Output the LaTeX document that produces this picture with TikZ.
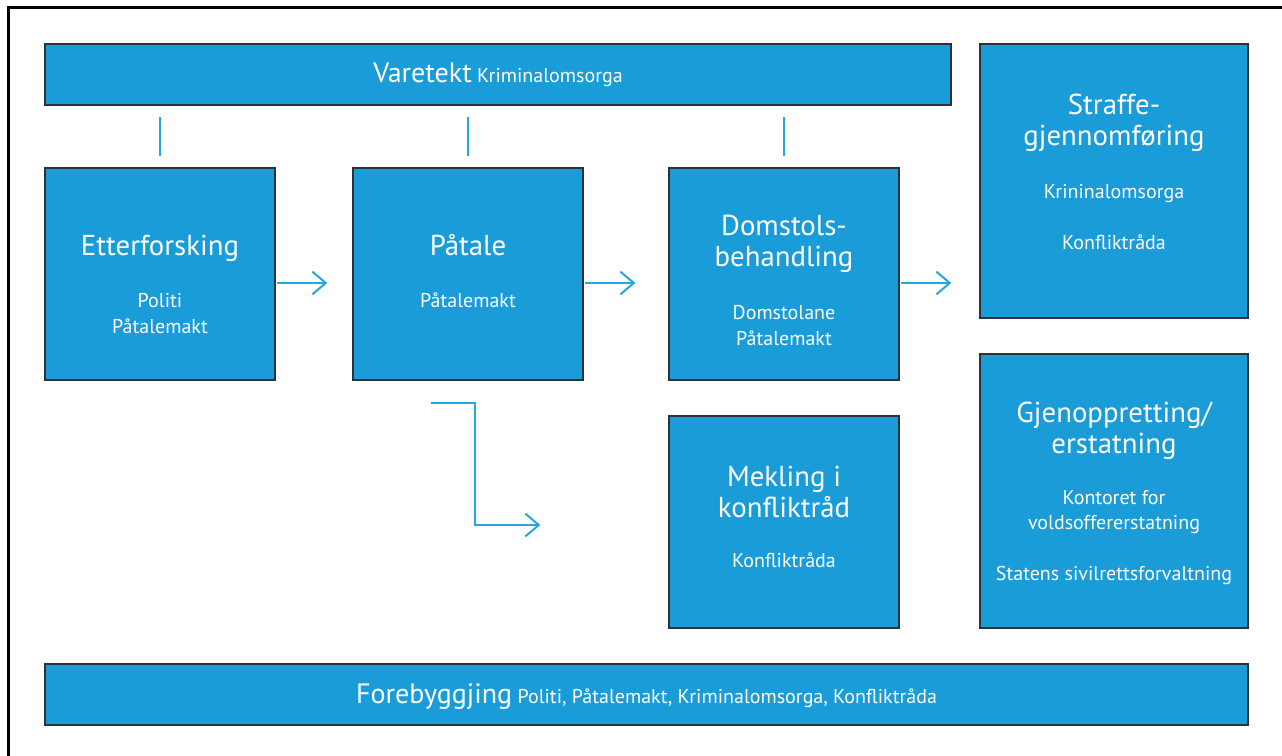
\documentclass[tikz,border=0pt]{standalone}
\usepackage{fontspec}
\setmainfont{PT Sans}
\usetikzlibrary{arrows.meta,calc}

\definecolor{boxblue}{RGB}{26,156,216}
\definecolor{boxedge}{RGB}{45,50,55}
\definecolor{linkblue}{RGB}{38,166,224}

\newcommand\headsize{\fontsize{21.6}{23}\selectfont}
\newcommand\barsize{\fontsize{21}{23}\selectfont}
\newcommand\subsize{\fontsize{15}{17}\selectfont}

\tikzset{
  stage/.style={draw=boxedge, fill=boxblue, line width=1pt, inner sep=0pt},
  headtxt/.style={text=white, font=\headsize, anchor=base, inner sep=0pt},
  subtxt/.style={text=white, font=\subsize, anchor=base, inner sep=0pt},
  link/.style={draw=linkblue, line width=1.5pt},
  arr/.style={link, -{Straight Barb[length=10pt,width=17pt]}},
}

\begin{document}
\begin{tikzpicture}[x=0.75pt,y=0.75pt,yscale=-1,xscale=1]
\useasboundingbox (0,0) rectangle (1282,756);

% frame
\draw[line width=1.6pt] (8.5,756) -- (8.5,7.5) -- (1282,7.5);

% boxes
\node[stage, minimum width=679.5pt, minimum height=45.75pt] (vare) at (498,74.5) {};
\node[stage, minimum width=172.5pt, minimum height=159pt] (etter) at (160,274) {};
\node[stage, minimum width=172.5pt, minimum height=159pt] (patale) at (468,274) {};
\node[stage, minimum width=172.5pt, minimum height=159pt] (domstol) at (784,274) {};
\node[stage, minimum width=172.5pt, minimum height=159pt] (mekling) at (784,522) {};
\node[stage, minimum width=201pt, minimum height=205.5pt] (straffe) at (1114,181) {};
\node[stage, minimum width=201pt, minimum height=205.5pt] (gjenopp) at (1114,491) {};
\node[stage, minimum width=902.25pt, minimum height=45.75pt] (fore) at (646.5,694.5) {};

% ticks under Varetekt
\draw[link] ($(etter.north)+(0,-11)$) -- ($(etter.north |- vare.south)+(0,11)$);
\draw[link] ($(patale.north)+(0,-11)$) -- ($(patale.north |- vare.south)+(0,11)$);
\draw[link] ($(domstol.north)+(0,-11)$) -- ($(domstol.north |- vare.south)+(0,11)$);

% arrows
\draw[arr] ($(etter.east)+(1,9)$) -- ($(patale.west)+(-25,9)$);
\draw[arr] ($(patale.east)+(1,9)$) -- ($(domstol.west)+(-33,9)$);
\draw[arr] ($(domstol.east)+(1,9)$) -- ($(straffe.west |- domstol.east)+(-28,9)$);
\draw[arr] ($(patale.south)+(-37,22)$) -| ($(mekling.west)+(-193,3)$) -- ($(mekling.west)+(-128,3)$);

% bars
\node[subtxt] (vareT) at (498,83) {{\barsize Varetekt} Kriminalomsorga};
\node[subtxt] (foreT) at (646.5,703) {{\barsize Forebyggjing} Politi, Påtalemakt, Kriminalomsorga, Konfliktråda};

% Etterforsking
\node[headtxt] (etterT) at (160,256) {Etterforsking};
\node[subtxt] (etterA) at (160,307) {Politi};
\node[subtxt] (etterB) at (160,333) {Påtalemakt};
% Paatale
\node[headtxt] (pataleT) at (468,256) {Påtale};
\node[subtxt] (pataleA) at (468,307) {Påtalemakt};
% Domstolsbehandling
\node[headtxt] (domT1) at (784,236) {Domstols-};
\node[headtxt] (domT2) at (784,267) {behandling};
\node[subtxt] (domA) at (784,319) {Domstolane};
\node[subtxt] (domB) at (784,345) {Påtalemakt};
% Mekling
\node[headtxt] (mekT1) at (784,486) {Mekling i};
\node[headtxt] (mekT2) at (784,517) {konfliktråd};
\node[subtxt] (mekA) at (784,567) {Konfliktråda};
% Straffegjennomfoering
\node[headtxt] (strT1) at (1114,115) {Straffe-};
\node[headtxt] (strT2) at (1114,146) {gjennomføring};
\node[subtxt] (strA) at (1114,199) {Krininalomsorga};
\node[subtxt] (strB) at (1114,249) {Konfliktråda};
% Gjenoppretting
\node[headtxt] (gjT1) at (1114,422) {Gjenoppretting/};
\node[headtxt] (gjT2) at (1114,453) {erstatning};
\node[subtxt] (gjA) at (1114,504) {Kontoret for};
\node[subtxt] (gjB) at (1114,529) {voldsoffererstatning};
\node[subtxt] (gjC) at (1114,580) {Statens sivilrettsforvaltning};

\end{tikzpicture}
\end{document}
